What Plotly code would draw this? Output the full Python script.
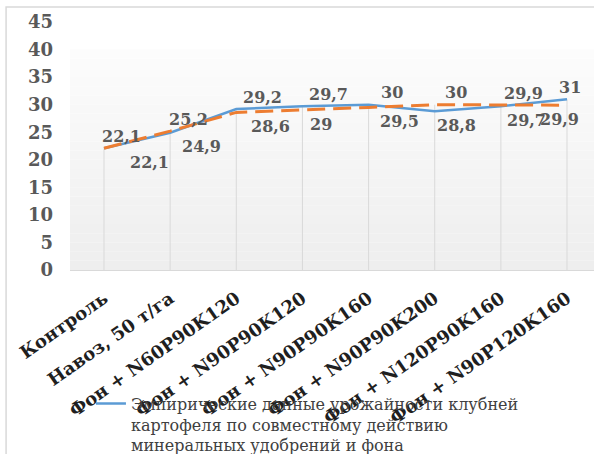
import plotly.graph_objects as go

# Treatments (x categories)
categories = [
    "Контроль",
    "Навоз, 50 т/га",
    "Фон + N60P90K120",
    "Фон + N90P90K120",
    "Фон + N90P90K160",
    "Фон + N90P90K200",
    "Фон + N120P90K160",
    "Фон + N90P120K160",
]

# Tuber yield, t/ha
empirical = [22.1, 24.9, 29.2, 29.7, 30.0, 28.8, 29.7, 31.0]
model = [22.1, 25.2, 28.6, 29.0, 29.5, 30.0, 29.9, 29.9]

empirical_name = ("Эмпирические данные урожайности клубней<br>"
                  "картофеля по совместному действию<br>"
                  "минеральных удобрений и фона")
model_name = "Расчётные данные урожайности"

y_ticks = [0, 5, 10, 15, 20, 25, 30, 35, 40, 45]

# --- styling -------------------------------------------------------------
BLUE = "#5B9BD5"
ORANGE = "#ED7D31"
TEXT = "#595959"
DARK = "#1F1F1F"
GRID = "#D9D9D9"
FONT = "DejaVu Serif"

# horizontal nudges (px) for the value labels above / below the lines
DX_UP = [-4, -3, 5, 5, 10, 8, 1, -10]
DX_DOWN = [24, 10, 13, 6, 9, 0, 4, -29]

xs = list(range(len(categories)))

fig = go.Figure()

# drop lines from the higher of the two points down to the axis
drop_x, drop_y = [], []
for i, (a, b) in enumerate(zip(empirical, model)):
    drop_x += [i, i, None]
    drop_y += [0, max(a, b), None]
fig.add_trace(go.Scatter(x=drop_x, y=drop_y, mode="lines",
                         line=dict(color=GRID, width=1),
                         hoverinfo="skip", showlegend=False))

fig.add_trace(go.Scatter(x=xs, y=empirical, mode="lines", name=empirical_name,
                         line=dict(color=BLUE, width=2.5)))
fig.add_trace(go.Scatter(x=xs, y=model, mode="lines", name=model_name,
                         line=dict(color=ORANGE, width=3, dash="18px,8px"),
                         showlegend=False))


def fmt(v):
    s = f"{v:.1f}".rstrip("0").rstrip(".")
    return s.replace(".", ",")


annotations = []
for i, (a, b) in enumerate(zip(empirical, model)):
    # the higher value is labelled above the lines, the lower one below
    hi, lo = (b, a) if b >= a else (a, b)
    annotations.append(dict(x=i, y=hi, xref="x", yref="y", text=fmt(hi),
                            showarrow=False, xanchor="left", yanchor="middle",
                            xshift=DX_UP[i], yshift=12,
                            font=dict(family=FONT, size=16, color=TEXT, weight="bold")))
    annotations.append(dict(x=i, y=lo, xref="x", yref="y", text=fmt(lo),
                            showarrow=False, xanchor="left", yanchor="middle",
                            xshift=DX_DOWN[i], yshift=-14,
                            font=dict(family=FONT, size=16, color=TEXT, weight="bold")))

# soft vertical gradient behind the plot area
shapes = []
n_bands = 24
top_val = 40.0
for k in range(n_bands):
    y0 = top_val * k / n_bands
    y1 = top_val * (k + 1) / n_bands
    t = k / (n_bands - 1)
    g = int(round(0xEE + (0xFC - 0xEE) * t))
    shapes.append(dict(type="rect", xref="paper", yref="y", x0=0, x1=1.01,
                       y0=y0, y1=y1, fillcolor=f"rgb({g},{g},{g})",
                       line=dict(width=0), layer="below"))

# outer chart border
shapes.append(dict(type="rect", xref="paper", yref="paper",
                   x0=-0.122, x1=1.05, y0=-1.0, y1=1.06,
                   line=dict(color=GRID, width=1.5), layer="below"))

fig.update_layout(
    width=594, height=454,
    margin=dict(l=70, r=0, t=22, b=184, autoexpand=False),
    paper_bgcolor="white", plot_bgcolor="white",
    annotations=annotations,
    shapes=shapes,
    showlegend=True,
    legend=dict(x=0.04, y=-0.47, xanchor="left", yanchor="top",
                valign="top", bgcolor="rgba(0,0,0,0)",
                tracegroupgap=0,
                font=dict(family=FONT, size=16, color="#404040")),
    xaxis=dict(range=[-0.514, 7.408], tickmode="array", tickvals=xs,
               ticktext=categories, tickangle=-35, showgrid=False,
               zeroline=False, showline=True, linecolor=GRID, linewidth=1,
               ticks="", ticklabelstandoff=10,
               tickfont=dict(family=FONT, size=18, color=DARK, weight="bold")),
    yaxis=dict(range=[0, 45], tickmode="array", tickvals=y_ticks,
               showgrid=False, zeroline=False, showline=False, ticks="",
               ticklabelstandoff=16,
               tickfont=dict(family=FONT, size=18, color=TEXT, weight="bold")),
)

fig.write_html("out.html")
